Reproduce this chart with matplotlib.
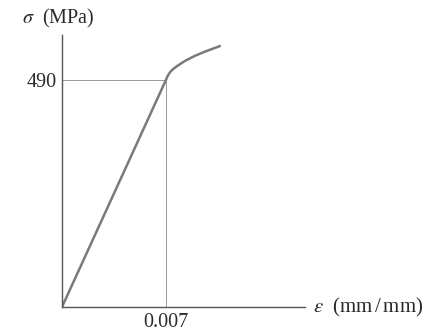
import numpy as np
import matplotlib.pyplot as plt

plt.rcParams['font.family'] = ['Liberation Serif', 'DejaVu Serif']
plt.rcParams['mathtext.fontset'] = 'stix'

# stress-strain curve
strain = [0.0, 0.0070, 0.00712, 0.00728, 0.00750, 0.00780, 0.00828, 0.00895, 0.00962, 0.01063]
stress = [0.0, 490.0, 499.0, 507.0, 514.0, 521.0, 531.0, 542.0, 551.0, 563.0]
yield_strain = 0.007
yield_stress = 490

fig = plt.figure(figsize=(4.32, 3.33), dpi=100)
ax = fig.add_axes([0.1435, 0.078, 0.5625, 0.817])

ax.plot([0, yield_strain], [yield_stress, yield_stress], c="#9a9a9a", lw=0.7)
ax.plot([yield_strain, yield_strain], [0, yield_stress], c="#9a9a9a", lw=0.7)
ax.plot(strain, stress, c="#7a7a7a", lw=1.8, solid_capstyle="round",
        solid_joinstyle="round")

ax.set_xlim(0, 0.01636)
ax.set_ylim(0, 587)
for s in ["top", "right"]:
    ax.spines[s].set_visible(False)
for s in ["left", "bottom"]:
    ax.spines[s].set_color("#555555")
    ax.spines[s].set_linewidth(1.0)

ax.set_xticks([yield_strain])
ax.set_xticklabels(["0.007"])
ax.set_yticks([yield_stress])
ax.set_yticklabels(["490"])
ax.tick_params(length=0, labelsize=14.5, labelcolor="#2a2a2a", pad=4)

ax.text(1.035, 0.0, r"$\epsilon$  (mm$\,$/$\,$mm)", transform=ax.transAxes,
        fontsize=15, color="#2a2a2a", va="center", ha="left")
ax.text(-0.165, 1.02, r"$\sigma$  (MPa)", transform=ax.transAxes,
        fontsize=14.5, color="#2a2a2a", va="bottom", ha="left")

plt.savefig("out.png", dpi=100)
